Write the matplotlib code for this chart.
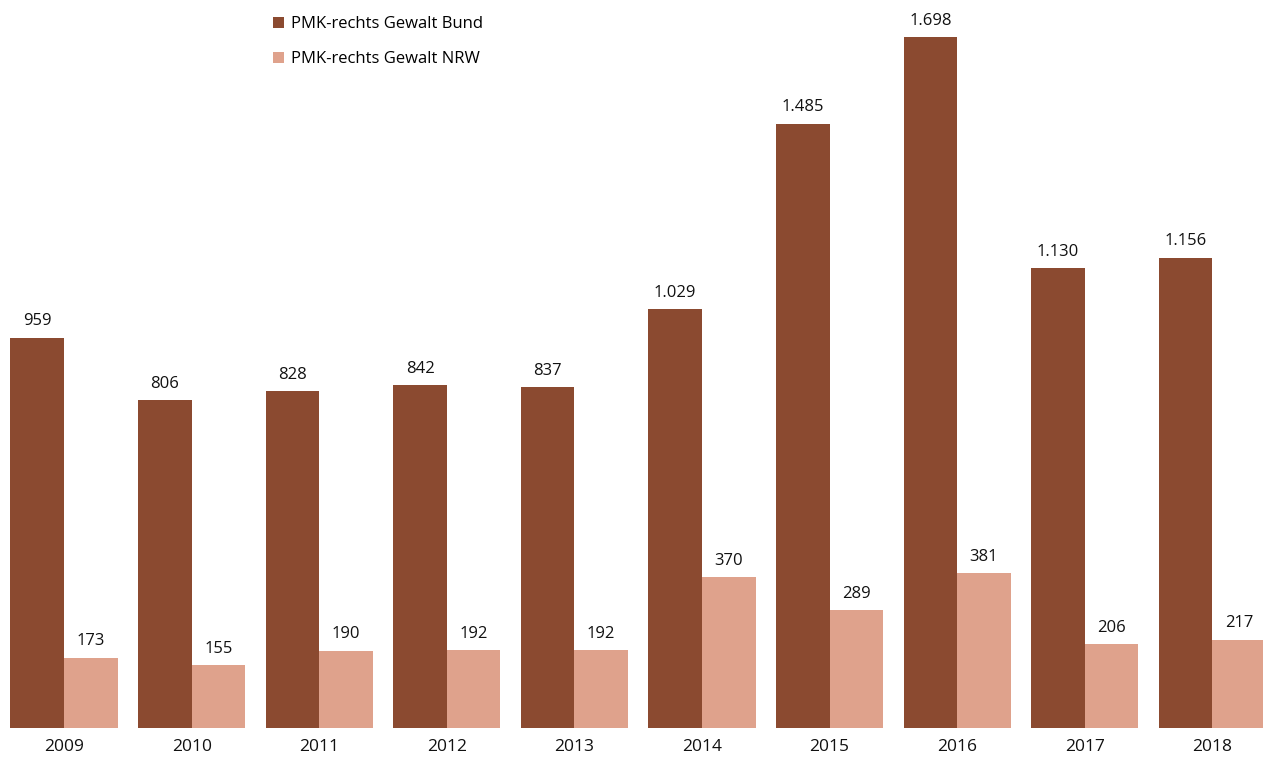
import matplotlib
matplotlib.use("Agg")
from matplotlib import pyplot as plt
import numpy as np

plt.rcParams['font.family'] = ['Open Sans', 'DejaVu Sans']

years = ['2009', '2010', '2011', '2012', '2013', '2014', '2015', '2016', '2017', '2018']
bund = [959, 806, 828, 842, 837, 1029, 1485, 1698, 1130, 1156]
nrw = [173, 155, 190, 192, 192, 370, 289, 381, 206, 217]
series_names = ['PMK-rechts Gewalt Bund', 'PMK-rechts Gewalt NRW']

col_bund = '#8B4A30'
col_nrw = '#DFA28C'

def fmt(v):
    return f"{v:,}".replace(",", ".")

fig = plt.figure(figsize=(12.63, 7.57), dpi=100)
ax = fig.add_axes([0, 29 / 757, 1, 728 / 757])

x = np.arange(len(years))
w = 0.42
b1 = ax.bar(x - w / 2, bund, w, color=col_bund, label=series_names[0])
b2 = ax.bar(x + w / 2, nrw, w, color=col_nrw, label=series_names[1])

for bars, vals in ((b1, bund), (b2, nrw)):
    for rect, v in zip(bars, vals):
        ax.annotate(fmt(v), (rect.get_x() + rect.get_width() / 2, v),
                    xytext=(0, 6), textcoords='offset points',
                    ha='center', va='bottom', fontsize=12, color='#111111')

ax.set_xlim(-0.502, 9.397)
ax.set_ylim(0, 1789)
ax.set_xticks(x)
ax.set_xticklabels(years, fontsize=12.5, color='#111111')
ax.tick_params(axis='x', length=0, pad=8)
ax.set_yticks([])
for s in ax.spines.values():
    s.set_visible(False)

leg = ax.legend(loc='upper left', bbox_to_anchor=(266 / 1263, 0.987), frameon=False,
                fontsize=12, handlelength=0.65, handleheight=0.65, handletextpad=0.45,
                labelspacing=1.15, borderaxespad=0)

fig.savefig("out.png", dpi=100)
